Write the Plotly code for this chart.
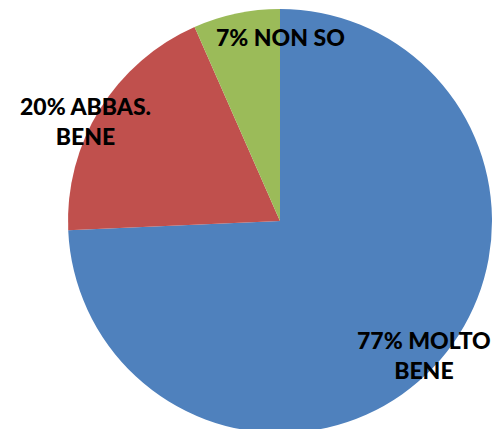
import plotly.graph_objects as go

categories = ["MOLTO BENE", "ABBAS. BENE", "NON SO"]
values = [74.3, 19.1, 6.6]
label_texts = ["77% MOLTO<br>BENE", "20% ABBAS.<br>BENE", "7% NON SO"]
colors = ["#4F81BD", "#C0504D", "#9BBB59"]

W, H = 495, 440
cx, cy, r = 280, 221, 212

fig = go.Figure(go.Pie(
    labels=categories,
    values=values,
    sort=False,
    direction="clockwise",
    rotation=0,
    marker=dict(colors=colors, line=dict(width=0)),
    textinfo="none",
    hoverinfo="label+percent",
    showlegend=False,
    domain=dict(x=[(cx - r) / W, (cx + r) / W],
                y=[1 - (cy + r) / H, 1 - (cy - r) / H]),
))

label_pos = [(423.5, 355), (85.5, 121), (280.5, 37)]
for txt, (px, py) in zip(label_texts, label_pos):
    fig.add_annotation(
        x=px / W, y=1 - py / H, xref="paper", yref="paper",
        text=txt, showarrow=False,
        font=dict(family="Lato", size=23, color="black", weight=900),
        xanchor="center", yanchor="middle", align="center",
    )

fig.update_layout(
    width=W, height=H,
    margin=dict(l=0, r=0, t=0, b=0),
    paper_bgcolor="white", plot_bgcolor="white",
)
fig.write_html(
    "out.html",
    config={"displayModeBar": False},
    post_script=("document.body.style.margin='0';"
                 "document.body.style.overflow='hidden';"
                 "document.documentElement.style.overflow='hidden';"),
)
